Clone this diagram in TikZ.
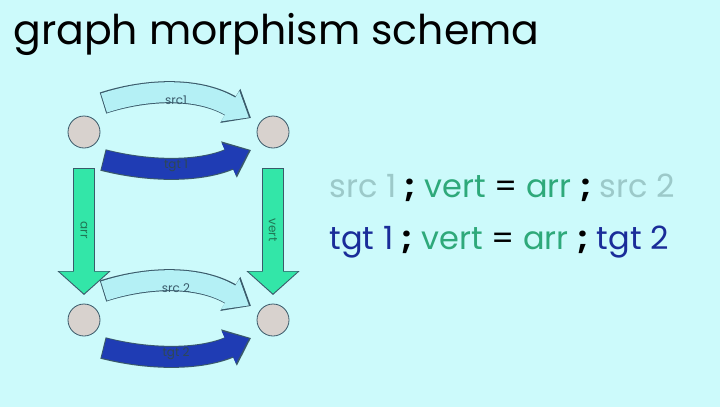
\documentclass[tikz,border=0pt]{standalone}
\usepackage{fontspec}
\setmainfont{Poppins}
\usetikzlibrary{arrows.meta, calc, positioning}
\definecolor{bgcyan}{HTML}{CCFAFB}
\definecolor{srccol}{HTML}{B4F0F5}
\definecolor{tgtcol}{HTML}{1F3CB4}
\definecolor{arrcol}{HTML}{33E6A8}
\definecolor{vertgreen}{HTML}{2EA97A}
\definecolor{srctext}{HTML}{9CC9C9}
\definecolor{tgttext}{HTML}{1A2C99}
\definecolor{dotgray}{HTML}{D8D2CE}
\definecolor{edge}{HTML}{3A5A6A}
\begin{document}
\begin{tikzpicture}[x=1pt,y=-1pt,
    dot/.style={circle, draw=edge, fill=dotgray, minimum size=32pt, inner sep=0pt, thick},
    band/.style={line width=20pt, -{Triangle[length=22pt,width=34pt]}},
    lbl/.style={font=\fontsize{12}{12}\selectfont},
    eqn/.style={anchor=west, font=\fontsize{32}{32}\selectfont}]
  \fill[bgcyan] (0,0) rectangle (720,407);
  \useasboundingbox (0,0) rectangle (720,407);
  \node[anchor=west, font=\fontsize{41}{41}\selectfont] (title) at (10,34) {graph morphism schema};
  % vertices
  \node[dot] (a1) at (84,132) {};
  \node[dot] (b1) at (273,132) {};
  \node[dot] (a2) at (84,320) {};
  \node[dot] (b2) at (273,320) {};
  % vertical arrows
  \coordinate (l1) at (84,168);
  \coordinate (l2) at (84,295);
  \coordinate (r1) at (273,168);
  \coordinate (r2) at (273,295);
  \draw[band, line width=22pt, draw=edge, fill=edge, -{Triangle[length=24pt,width=52pt]}] (l1) -- (l2);
  \draw[band, line width=20pt, draw=arrcol, -{Triangle[length=22pt,width=48pt]}] ($(l1)+(0,1)$) -- ($(l2)+(0,-1.5)$);
  \draw[band, line width=22pt, draw=edge, fill=edge, -{Triangle[length=24pt,width=52pt]}] (r1) -- (r2);
  \draw[band, line width=20pt, draw=arrcol, -{Triangle[length=22pt,width=48pt]}] ($(r1)+(0,1)$) -- ($(r2)+(0,-1.5)$);
  \node[lbl, rotate=-90, text=vertgreen!70!black] at (84,230) {arr};
  \node[lbl, rotate=-90, text=vertgreen!70!black] at (273,230) {vert};
  % horizontal arrows
  \foreach \y/\n in {0/1, 188/2} {
    \draw[band, draw=edge, line width=22pt, -{Triangle[length=24pt,width=38pt]}]
      (103,{103+\y}) .. controls (150,{88+\y}) and (200,{88+\y}) .. (251,{118+\y});
    \draw[band, draw=srccol, -{Triangle[length=22pt,width=34pt]}]
      (104,{103+\y}) .. controls (150,{88+\y}) and (200,{88+\y}) .. (249,{117.5+\y});
    \draw[band, draw=edge, line width=22pt, -{Triangle[length=24pt,width=38pt]}]
      (103,{160+\y}) .. controls (150,{172+\y}) and (200,{172+\y}) .. (251,{150+\y});
    \draw[band, draw=tgtcol, -{Triangle[length=22pt,width=34pt]}]
      (104,{160+\y}) .. controls (150,{172+\y}) and (200,{172+\y}) .. (249,{150.5+\y});
  }
  \node[lbl, text=edge] at (176,{100}) {src1};
  \node[lbl, text=edge!80!black] at (176,{166}) {tgt 1};
  \node[lbl, text=edge] at (176,{288}) {src 2};
  \node[lbl, text=edge!80!black] at (176,{354}) {tgt 2};
  % equations
  \node[eqn] (eq1) at (326,188) {\textcolor{srctext}{src 1} \textbf{;} \textcolor{vertgreen}{vert} = \textcolor{vertgreen}{arr} \textbf{;} \textcolor{srctext}{src 2}};
  \node[eqn] (eq2) at (326,242) {\textcolor{tgttext}{tgt 1} \textbf{;} \textcolor{vertgreen}{vert} = \textcolor{vertgreen}{arr} \textbf{;} \textcolor{tgttext}{tgt 2}};
\end{tikzpicture}
\end{document}
